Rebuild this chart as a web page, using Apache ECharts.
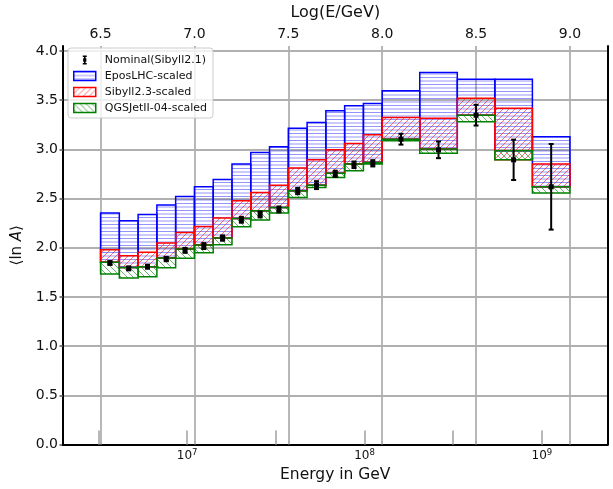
<!DOCTYPE html>
<html lang="en">
<head>
<meta charset="UTF-8">
<title>lnA vs energy</title>
<script src="https://cdn.jsdelivr.net/npm/echarts@6/dist/echarts.min.js"></script>
<style>
  html, body { margin: 0; padding: 0; background: #fff; }
  #main { width: 613px; height: 489px; }
</style>
</head>
<body>
<div id="main"></div>
<script>
// bin edges in log10(E/GeV)
var binEdges = [6.5, 6.6, 6.7, 6.8, 6.9, 7.0, 7.1, 7.2, 7.3, 7.4, 7.5, 7.6, 7.7, 7.8, 7.9, 8.0, 8.2, 8.4, 8.6, 8.8, 9.0];

// Nominal (Sibyll2.1) points and errors
var nominal    = [1.845, 1.79, 1.807, 1.885, 1.973, 2.017, 2.098, 2.284, 2.338, 2.389, 2.576, 2.636, 2.751, 2.843, 2.858, 3.103, 2.995, 3.347, 2.893, 2.619];
var nominalErr = [0.02, 0.02, 0.02, 0.022, 0.025, 0.03, 0.027, 0.03, 0.03, 0.03, 0.032, 0.04, 0.032, 0.033, 0.032, 0.055, 0.085, 0.105, 0.205, 0.435];

// model bands
var eposLo = [1.851, 1.80, 1.807, 1.895, 1.987, 2.027, 2.098, 2.298, 2.376, 2.409, 2.579, 2.636, 2.758, 2.850, 2.866, 3.103, 3.002, 3.347, 2.985, 2.619];
var eposHi = [2.352, 2.274, 2.338, 2.433, 2.521, 2.619, 2.694, 2.850, 2.968, 3.025, 3.215, 3.272, 3.391, 3.442, 3.465, 3.594, 3.780, 3.713, 3.713, 3.127];
var sibLo  = [1.851, 1.80, 1.807, 1.895, 1.987, 2.027, 2.098, 2.298, 2.376, 2.409, 2.579, 2.636, 2.758, 2.850, 2.866, 3.103, 3.002, 3.347, 2.893, 2.619];
var sibHi  = [1.980, 1.919, 1.953, 2.047, 2.155, 2.216, 2.301, 2.477, 2.562, 2.636, 2.809, 2.893, 2.995, 3.059, 3.147, 3.323, 3.316, 3.520, 3.418, 2.850];
var qgsLo  = [1.733, 1.692, 1.706, 1.797, 1.892, 1.949, 2.030, 2.213, 2.281, 2.352, 2.511, 2.612, 2.714, 2.782, 2.850, 3.086, 2.961, 3.279, 2.893, 2.555];
var qgsHi  = [1.851, 1.80, 1.807, 1.895, 1.987, 2.027, 2.098, 2.298, 2.376, 2.409, 2.579, 2.636, 2.758, 2.850, 2.866, 3.103, 3.002, 3.347, 2.985, 2.619];

var topTicks = [6.5, 7.0, 7.5, 8.0, 8.5, 9.0];
var bottomTicks = [6.5, 7, 7.5, 8, 8.5, 9];
var bottomLabels = [7, 8, 9];
var yTicks = [0, 0.5, 1.0, 1.5, 2.0, 2.5, 3.0, 3.5, 4.0];

var FONT = 'DejaVu Sans';

function makeHatch(kind, color) {
    var c = document.createElement('canvas');
    var ctx = c.getContext('2d');
    ctx.lineWidth = 1;
    if (kind === '-') {
        c.width = 10; c.height = 7;
        ctx.strokeStyle = color;
        ctx.beginPath();
        ctx.moveTo(0, 0.5); ctx.lineTo(10, 0.5);
        ctx.moveTo(0, 4); ctx.lineTo(10, 4);
        ctx.stroke();
    } else {
        var s = 6;
        c.width = s; c.height = s;
        ctx.strokeStyle = color;
        ctx.beginPath();
        if (kind === '/') {
            ctx.moveTo(-1, s + 1); ctx.lineTo(s + 1, -1);
            ctx.moveTo(-1, 1); ctx.lineTo(1, -1);
            ctx.moveTo(s - 1, s + 1); ctx.lineTo(s + 1, s - 1);
        } else {
            ctx.moveTo(-1, -1); ctx.lineTo(s + 1, s + 1);
            ctx.moveTo(-1, s - 1); ctx.lineTo(1, s + 1);
            ctx.moveTo(s - 1, -1); ctx.lineTo(s + 1, 1);
        }
        ctx.stroke();
    }
    return { image: c, repeat: 'repeat' };
}

var blueFill = makeHatch('-', 'rgba(0,0,255,0.42)');
var redFill = makeHatch('/', 'rgba(255,0,0,0.55)');
var greenFill = makeHatch('\\', 'rgba(0,128,0,0.6)');

function bandData(lo, hi) {
    var d = [];
    for (var i = 0; i < lo.length; i++) {
        d.push([binEdges[i], binEdges[i + 1], lo[i], hi[i]]);
    }
    return d;
}

function boxRender(fill, stroke) {
    return function (params, api) {
        var p0 = api.coord([api.value(0), api.value(3)]);
        var p1 = api.coord([api.value(1), api.value(2)]);
        return {
            type: 'rect',
            shape: { x: p0[0], y: p0[1], width: p1[0] - p0[0], height: p1[1] - p0[1] },
            style: { fill: fill, stroke: stroke, lineWidth: 1.5 }
        };
    };
}

var pointData = [];
for (var i = 0; i < nominal.length; i++) {
    pointData.push([(binEdges[i] + binEdges[i + 1]) / 2, nominal[i], nominalErr[i]]);
}

function errRender(params, api) {
    var x = api.value(0), y = api.value(1), e = api.value(2);
    var c = api.coord([x, y]);
    var t = api.coord([x, y + e]);
    var b = api.coord([x, y - e]);
    var cap = 2.5;
    var st = { stroke: '#000', lineWidth: 2 };
    return {
        type: 'group',
        children: [
            { type: 'line', shape: { x1: c[0], y1: t[1], x2: c[0], y2: b[1] }, style: st },
            { type: 'line', shape: { x1: c[0] - cap, y1: t[1], x2: c[0] + cap, y2: t[1] }, style: st },
            { type: 'line', shape: { x1: c[0] - cap, y1: b[1], x2: c[0] + cap, y2: b[1] }, style: st },
            { type: 'rect', shape: { x: c[0] - 2.5, y: c[1] - 2.5, width: 5, height: 5 }, style: { fill: '#000' } }
        ]
    };
}

var myChart = echarts.init(document.getElementById('main'), null, { renderer: 'canvas' });

var gridGray = '#b0b0b0';

var option = {
    animation: false,
    textStyle: { fontFamily: FONT },
    grid: { left: 63, right: 5.5, top: 45.5, bottom: 44.5 },
    legend: {
        orient: 'vertical',
        left: 68,
        top: 48,
        itemWidth: 22,
        itemHeight: 9,
        itemGap: 4,
        padding: [6, 6, 4, 5],
        backgroundColor: 'rgba(255,255,255,0.8)',
        borderColor: '#cccccc',
        borderWidth: 1,
        borderRadius: 3,
        textStyle: { fontFamily: FONT, fontSize: 11, color: '#111', lineHeight: 12, padding: [0, 0, 0, 4] },
        data: [
            {
                name: 'Nominal(Sibyll2.1)',
                icon: 'path://M0,0L0.01,0L0.01,0.01ZM22,9L21.99,9L21.99,8.99ZM9,0H13V1.6H11.8V2.8H12.6V6.2H11.8V7.4H13V9H9V7.4H10.2V6.2H9.4V2.8H10.2V1.6H9Z',
                itemStyle: { color: '#000', borderWidth: 0 }
            },
            { name: 'EposLHC-scaled', icon: 'rect', itemStyle: { color: blueFill, borderColor: '#0000ff', borderWidth: 1.5 } },
            { name: 'Sibyll2.3-scaled', icon: 'rect', itemStyle: { color: redFill, borderColor: '#ff0000', borderWidth: 1.5 } },
            { name: 'QGSJetII-04-scaled', icon: 'rect', itemStyle: { color: greenFill, borderColor: '#008000', borderWidth: 1.5 } }
        ]
    },
    xAxis: [
        {
            type: 'value',
            position: 'top',
            min: 6.3,
            max: 9.2,
            z: 1,
            name: 'Log(E/GeV)',
            nameLocation: 'middle',
            nameGap: 25,
            nameTextStyle: { fontFamily: FONT, fontSize: 16, color: '#111' },
            axisLine: { show: true, lineStyle: { color: '#000', width: 2 } },
            axisTick: { show: true, inside: false, length: 3.5, customValues: topTicks, lineStyle: { color: gridGray, width: 1.5 } },
            axisLabel: {
                customValues: topTicks,
                margin: 5,
                fontSize: 14,
                color: '#111',
                formatter: function (v) { return v.toFixed(1); }
            },
            splitLine: { show: true, lineStyle: { color: gridGray, width: 1.8 } }
        },
        {
            type: 'value',
            position: 'bottom',
            min: 6.3,
            max: 9.37,
            z: 1,
            name: 'Energy in GeV',
            nameLocation: 'middle',
            nameGap: 22,
            nameTextStyle: { fontFamily: FONT, fontSize: 15.5, color: '#111' },
            axisLine: { show: true, lineStyle: { color: '#000', width: 2 } },
            axisTick: { show: true, inside: true, length: 14, customValues: bottomTicks, lineStyle: { color: gridGray, width: 1.8 } },
            axisLabel: {
                customValues: bottomLabels,
                margin: 4,
                formatter: function (v) { return '{b|10}{s|' + Math.round(v) + '}'; },
                rich: {
                    b: { fontFamily: FONT, fontSize: 12, color: '#111' },
                    s: { fontFamily: FONT, fontSize: 8.5, color: '#111', verticalAlign: 'top', padding: [0, 0, 6, 0] }
                }
            },
            splitLine: { show: false }
        }
    ],
    yAxis: [
        {
            type: 'value',
            min: 0,
            max: 4.05,
            name: '{n|⟨ln }{i|A}{n|⟩}',
            nameLocation: 'middle',
            nameRotate: 90,
            nameGap: 34,
            nameTextStyle: {
                rich: {
                    n: { fontFamily: FONT, fontSize: 15, color: '#111' },
                    i: { fontFamily: FONT, fontSize: 15, color: '#111', fontStyle: 'italic' }
                }
            },
            axisLine: { show: true, lineStyle: { color: '#000', width: 2 } },
            axisTick: { show: true, inside: false, length: 3.5, customValues: yTicks, lineStyle: { color: '#555', width: 1.5 } },
            axisLabel: {
                customValues: yTicks,
                margin: 5,
                fontSize: 14,
                color: '#111',
                formatter: function (v) { return v.toFixed(1); }
            },
            splitLine: { show: true, lineStyle: { color: gridGray, width: 1.8 } }
        },
        {
            type: 'value',
            position: 'right',
            min: 0,
            max: 4.05,
            z: 1,
            axisLine: { show: true, lineStyle: { color: '#000', width: 2 } },
            axisTick: { show: false },
            axisLabel: { show: false },
            splitLine: { show: false }
        }
    ],
    series: [
        {
            name: 'EposLHC-scaled',
            type: 'custom',
            xAxisIndex: 0,
            yAxisIndex: 0,
            renderItem: boxRender(blueFill, '#0000ff'),
            data: bandData(eposLo, eposHi),
            z: 2
        },
        {
            name: 'Sibyll2.3-scaled',
            type: 'custom',
            xAxisIndex: 0,
            yAxisIndex: 0,
            renderItem: boxRender(redFill, '#ff0000'),
            data: bandData(sibLo, sibHi),
            z: 3
        },
        {
            name: 'QGSJetII-04-scaled',
            type: 'custom',
            xAxisIndex: 0,
            yAxisIndex: 0,
            renderItem: boxRender(greenFill, '#008000'),
            data: bandData(qgsLo, qgsHi),
            z: 4
        },
        {
            name: 'Nominal(Sibyll2.1)',
            type: 'custom',
            xAxisIndex: 0,
            yAxisIndex: 0,
            renderItem: errRender,
            data: pointData,
            z: 5
        }
    ]
};

myChart.setOption(option);
</script>
</body>
</html>
